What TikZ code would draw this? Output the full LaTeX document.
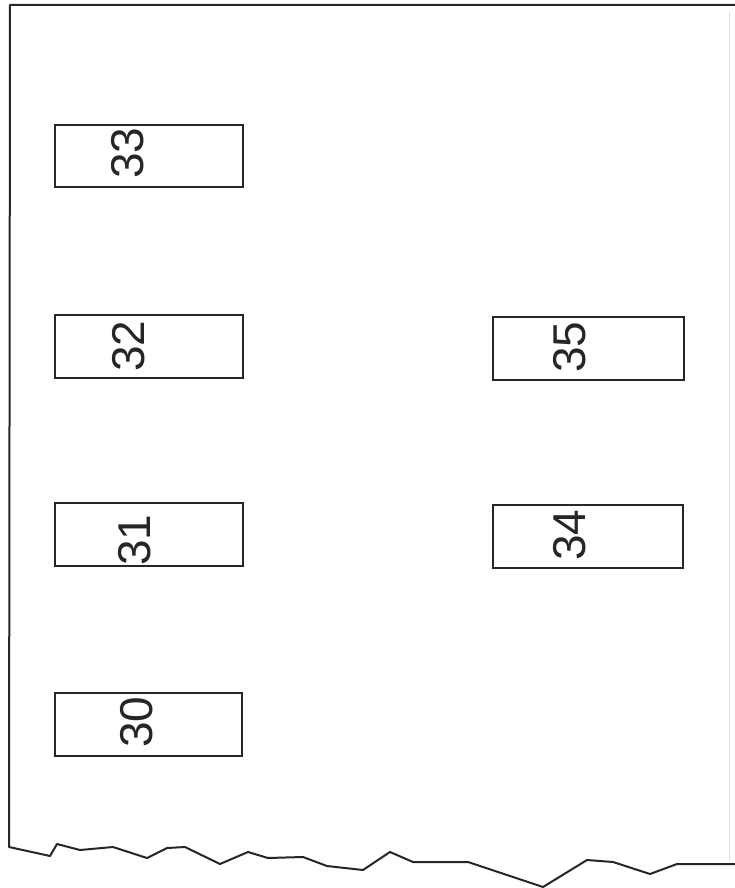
\documentclass[tikz,border=0pt]{standalone}
\usepackage{fontspec}
\setmainfont{Liberation Sans}
\begin{document}
\begin{tikzpicture}[x=1pt,y=-1pt,
  box/.style={draw=black!85,line width=1.8pt},
  lbl/.style={inner sep=0pt,rotate=90,font=\fontsize{46}{46}\selectfont,text=black!85},
  edge/.style={draw=black!85,line width=2pt,line join=round}]
\useasboundingbox (0,0) rectangle (735,888);
% outline of the torn sheet
\coordinate (tr) at (735,5);
\coordinate (tl) at (10,5);
\coordinate (bl) at (9,847);
\draw[edge] (tr) -- (tl) -- (bl) -- (50,856) -- (57,844) -- (80,850) -- (113,847) -- (147,858)
  -- (167,848) -- (185,847) -- (220,864) -- (248,852) -- (268,858) -- (303,857) -- (327,866)
  -- (363,870) -- (390,852) -- (413,862) -- (468,862) -- (543,887) -- (587,860) -- (613,862)
  -- (650,874) -- (677,864) -- (735,864);
\draw[black!12,line width=1pt] (729,12) -- (729,860);
% boxes
\draw[box] (55,125) rectangle (243,187) node[pos=.5,opacity=0] (b33) {};
\draw[box] (55,315) rectangle (243,378) node[pos=.5,opacity=0] (b32) {};
\draw[box] (55,503) rectangle (243,566) node[pos=.5,opacity=0] (b31) {};
\draw[box] (55,693) rectangle (242,756) node[pos=.5,opacity=0] (b30) {};
\draw[box] (493,317) rectangle (684,380) node[pos=.5,opacity=0] (b35) {};
\draw[box] (493,505) rectangle (683,568) node[pos=.5,opacity=0] (b34) {};
% labels
\node[lbl] (t33) at (128,153) {33};
\node[lbl] (t32) at (129,346) {32};
\node[lbl] (t31) at (135,540) {31};
\node[lbl] (t30) at (137,722) {30};
\node[lbl] (t35) at (570,347) {35};
\node[lbl] (t34) at (570,535) {34};
\end{tikzpicture}
\end{document}
